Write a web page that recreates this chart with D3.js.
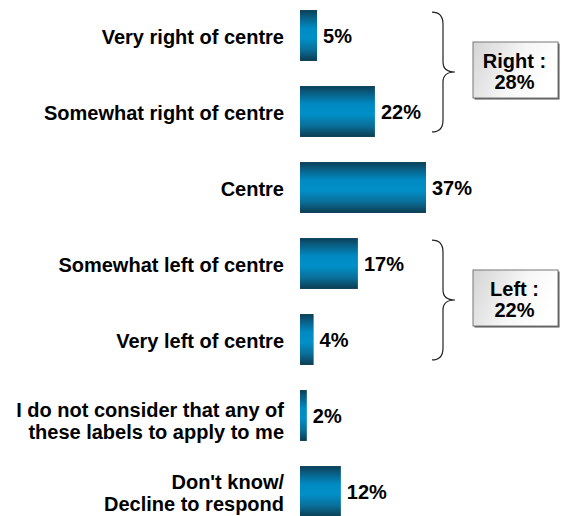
<!DOCTYPE html>
<html>
<head>
<meta charset="utf-8">
<script src="https://cdn.jsdelivr.net/npm/d3@7"></script>
<style>
  html, body { margin: 0; padding: 0; background: #fff; }
  svg { display: block; }
  text { font-family: "Liberation Sans", Arial, sans-serif; font-weight: bold; fill: #000; }
</style>
</head>
<body>
<svg id="chart" width="561" height="516"></svg>
<script>
// Self-placement on the political spectrum (% of respondents)
const categories = [
  ["Very right of centre"],
  ["Somewhat right of centre"],
  ["Centre"],
  ["Somewhat left of centre"],
  ["Very left of centre"],
  ["I do not consider that any of", "these labels to apply to me"],
  ["Don't know/", "Decline to respond"]
];
const values = [5, 22, 37, 17, 4, 2, 12];

// Grouped totals shown beside the braces
const groupNames = ["Right :", "Left :"];
const groupValues = [28, 22];
const groupSpans = [[0, 1], [3, 4]];

const svg = d3.select("#chart");
const W = 561, H = 516;
const FS = 20;

const x = d3.scaleLinear().domain([0, 37]).range([300, 426]);
const y = d3.scaleBand()
  .domain(d3.range(categories.length))
  .range([-2.5, 529.5])
  .paddingInner(0.33)
  .paddingOuter(0.165);

const defs = svg.append("defs");
const barGrad = defs.append("linearGradient")
  .attr("id", "barGrad").attr("x1", 0).attr("y1", 0).attr("x2", 0).attr("y2", 1);
[[0, "#0b3f56"], [0.12, "#0a5a7e"], [0.35, "#0089c2"], [0.55, "#0090c9"], [0.78, "#0a6f99"], [1, "#0b3c52"]]
  .forEach(([o, c]) => barGrad.append("stop").attr("offset", o).attr("stop-color", c));

const boxGrad = defs.append("linearGradient")
  .attr("id", "boxGrad").attr("x1", 0).attr("y1", 0).attr("x2", 1).attr("y2", 0.3);
[[0, "#d4d4d4"], [0.6, "#f6f6f6"], [1, "#ffffff"]]
  .forEach(([o, c]) => boxGrad.append("stop").attr("offset", o).attr("stop-color", c));

// Bars
svg.append("g").selectAll("rect")
  .data(values)
  .join("rect")
  .attr("x", x(0))
  .attr("y", (d, i) => y(i))
  .attr("width", d => x(d) - x(0))
  .attr("height", y.bandwidth())
  .attr("fill", "url(#barGrad)");

// Value labels
svg.append("g").selectAll("text")
  .data(values)
  .join("text")
  .attr("x", d => x(d) + 6)
  .attr("y", (d, i) => y(i) + y.bandwidth() / 2)
  .attr("dy", "0.38em")
  .attr("font-size", FS)
  .text(d => d + "%");

// Category labels (right-aligned; two-line labels sit slightly lower,
// but the last line's descenders must stay inside the canvas)
const lineH = 22;
svg.append("g").selectAll("text")
  .data(categories)
  .join("text")
  .attr("text-anchor", "end")
  .attr("font-size", FS)
  .attr("x", 284)
  .each(function(lines, i) {
    const t = d3.select(this);
    const n = lines.length;
    let first = y(i) + y.bandwidth() / 2 + 0.36 * FS - (n - 1) / 2 * lineH + (n > 1 ? 5 : 1);
    const lastBase = first + (n - 1) * lineH;
    if (lastBase > H - 5) first -= lastBase - (H - 5);
    lines.forEach((ln, k) => {
      t.append("tspan")
        .attr("x", 284)
        .attr("y", first + k * lineH)
        .text(ln);
    });
  });

// Curly braces and group total boxes
const braceX = 432, tipX = 455;
groupSpans.forEach(([a, b], gi) => {
  const y0 = y(a) + 2, y1 = y(b) + y.bandwidth() - 5;
  const ym = (y0 + y1) / 2;
  const bx = braceX, mx = braceX + 11;
  const path = d3.path();
  path.moveTo(bx, y0);
  path.quadraticCurveTo(mx, y0, mx, y0 + 12);
  path.lineTo(mx, ym - 10);
  path.quadraticCurveTo(mx, ym, tipX, ym);
  path.quadraticCurveTo(mx, ym, mx, ym + 10);
  path.lineTo(mx, y1 - 12);
  path.quadraticCurveTo(mx, y1, bx, y1);
  svg.append("path")
    .attr("d", path.toString())
    .attr("fill", "none")
    .attr("stroke", "#222")
    .attr("stroke-width", 1.2);

  const bw = 85, bh = 56, left = 473, top = ym - bh / 2 - 2;
  // drop-shadow edge
  svg.append("rect")
    .attr("x", left + 1.5).attr("y", top + 1.5)
    .attr("width", bw).attr("height", bh)
    .attr("fill", "#555");
  svg.append("rect")
    .attr("x", left).attr("y", top)
    .attr("width", bw).attr("height", bh)
    .attr("fill", "url(#boxGrad)")
    .attr("stroke", "#777").attr("stroke-width", 1);
  const tx = left + bw / 2 - 1;
  svg.append("text")
    .attr("x", tx).attr("y", top + 26)
    .attr("text-anchor", "middle").attr("font-size", FS)
    .text(groupNames[gi]);
  svg.append("text")
    .attr("x", tx).attr("y", top + 47)
    .attr("text-anchor", "middle").attr("font-size", FS)
    .text(groupValues[gi] + "%");
});
</script>
</body>
</html>
